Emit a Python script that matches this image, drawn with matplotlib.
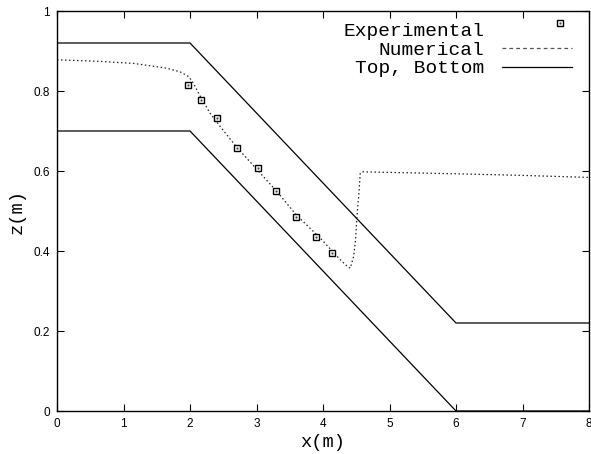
import matplotlib
matplotlib.use("Agg")
import matplotlib.pyplot as plt
import numpy as np
from matplotlib.lines import Line2D
from matplotlib.legend_handler import HandlerTuple, HandlerLine2D

# Experimental points
exp_x = [1.97, 2.17, 2.41, 2.71, 3.03, 3.30, 3.60, 3.90, 4.14]
exp_z = [0.815, 0.777, 0.732, 0.657, 0.607, 0.550, 0.485, 0.435, 0.395]

# Numerical free surface
num_x = [0.0, 0.65, 1.15, 1.65, 1.85, 1.98, 2.05, 2.15, 2.30, 2.45, 2.70, 3.00, 3.30,
         3.60, 3.96, 4.15, 4.26, 4.35, 4.41, 4.46, 4.49, 4.51, 4.54, 4.56, 4.59,
         5.14, 6.0, 7.0, 8.0]
num_z = [0.878, 0.874, 0.869, 0.857, 0.848, 0.836, 0.820, 0.788, 0.745, 0.712, 0.660, 0.605, 0.550,
         0.490, 0.432, 0.398, 0.378, 0.364, 0.357, 0.386, 0.428, 0.486, 0.544, 0.594, 0.598,
         0.596, 0.593, 0.589, 0.584]

# Channel top and bottom
top_x = [0.0, 2.0, 6.0, 8.0]
top_z = [0.92, 0.92, 0.22, 0.22]
bot_x = [0.0, 2.0, 6.0, 8.0]
bot_z = [0.70, 0.70, 0.0, 0.0]

xticks = [0, 1, 2, 3, 4, 5, 6, 7, 8]
yticks = [0, 0.2, 0.4, 0.6, 0.8, 1]
ytick_labels = ["0", "0.2", "0.4", "0.6", "0.8", "1"]


class ShiftedMarker(HandlerLine2D):
    """Single legend marker placed near the right end of the handle, raised a bit."""
    def get_xdata(self, legend, xdescent, ydescent, width, height, fontsize):
        xdata = np.array([0.66 * width - xdescent, width - xdescent], float)
        return xdata, xdata

    def create_artists(self, *args, **kwargs):
        arts = super().create_artists(*args, **kwargs)
        for a in arts:
            a.set_ydata(np.asarray(a.get_ydata(), float) + 4.5)
        return arts


fig = plt.figure(figsize=(5.91, 4.54), dpi=100)
ax = fig.add_axes([57/591, 43/454, 532/591, 400/454])

mono = ["Liberation Mono", "DejaVu Sans Mono"]

sq_style = dict(linestyle="none", marker="s", markersize=5.0,
                markerfacecolor="white", markeredgecolor="black", markeredgewidth=1.0)
dot_style = dict(linestyle="none", marker="s", markersize=1.0,
                 markerfacecolor="#444444", markeredgecolor="#444444", markeredgewidth=0.3)

l_top, = ax.plot(top_x, top_z, color="black", lw=0.9)
ax.plot(bot_x, bot_z, color="black", lw=0.9)
ax.plot(num_x, num_z, color="#222222", lw=0.9, linestyle=(0, (1.2, 2.0)))
l_exp, = ax.plot(exp_x, exp_z, **sq_style)
l_dot, = ax.plot(exp_x, exp_z, **dot_style)

p_num = Line2D([], [], color="#555555", lw=0.9, linestyle=(0, (3.0, 2.5)))

ax.set_xlim(0, 8)
ax.set_ylim(0, 1)
ax.set_xticks(xticks)
ax.set_xticklabels([str(t) for t in xticks])
ax.set_yticks(yticks)
ax.set_yticklabels(ytick_labels)
ax.tick_params(direction="in", length=5, width=0.8, top=True, right=True,
               labelsize=8.5, pad=5)
for lab in ax.get_xticklabels() + ax.get_yticklabels():
    lab.set_family(["Liberation Sans", "DejaVu Sans"])
for s in ax.spines.values():
    s.set_linewidth(1.0)

ax.set_xlabel("x(m)", family=mono, fontsize=13.5, labelpad=3)
ax.set_ylabel("z(m)", family=mono, fontsize=13.5, labelpad=6)

leg = ax.legend([(l_exp, l_dot), p_num, l_top], ["Experimental", "Numerical", "Top, Bottom"],
                handler_map={tuple: HandlerTuple(ndivide=1),
                             l_exp: ShiftedMarker(numpoints=1),
                             l_dot: ShiftedMarker(numpoints=1)},
                loc="upper right", frameon=False, markerfirst=False,
                prop={"family": mono, "size": 14}, handlelength=3.6,
                handletextpad=0.9, labelspacing=0.05, borderaxespad=0.2,
                bbox_to_anchor=(0.99, 1.0))
for t in leg.get_texts():
    t.set_ha("right")
leg._legend_box.align = "right"

fig.savefig("out.png", dpi=100)
